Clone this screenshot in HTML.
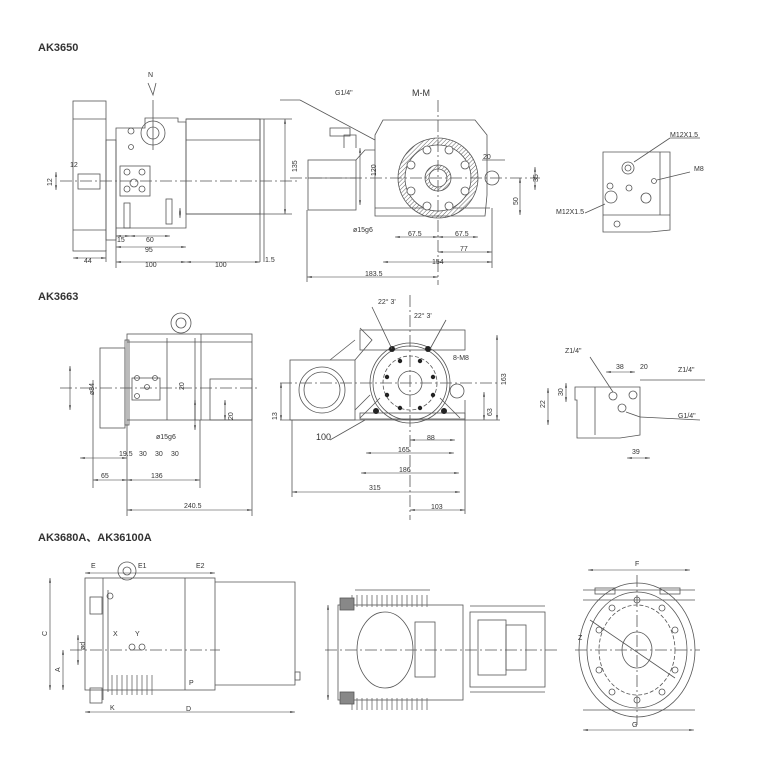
<!DOCTYPE html>
<html><head><meta charset="utf-8"><style>
html,body{margin:0;padding:0;background:#fff;}
svg{display:block;}
text{font-family:"Liberation Sans","Noto Sans CJK SC",sans-serif;fill:#333;}
</style></head><body>
<svg width="760" height="760" viewBox="0 0 760 760" xmlns="http://www.w3.org/2000/svg">
<defs>
<marker id="a" markerWidth="8" markerHeight="6" refX="8" refY="3" orient="auto-start-reverse"><path d="M0,1.5 L8,3 L0,4.5Z" fill="#333"/></marker>
<pattern id="h" width="3" height="3" patternUnits="userSpaceOnUse" patternTransform="rotate(45)"><line x1="0" y1="0" x2="0" y2="3" stroke="#666" stroke-width="1"/></pattern>
<pattern id="fin" width="5" height="10" patternUnits="userSpaceOnUse"><line x1="2" y1="0" x2="2" y2="10" stroke="#666" stroke-width="0.8"/></pattern>
</defs>
<g fill="none" stroke="#555" stroke-width="0.8">
<!-- ===== AK3650 left ===== -->
<rect x="73" y="101" width="33" height="150"/>
<line x1="73" y1="119" x2="106" y2="119"/><line x1="73" y1="230" x2="106" y2="230"/>
<rect x="106" y="140" width="10" height="100"/>
<path d="M116,128 H145 V118 H178 V122 H186 V128 V228 H116Z"/>
<rect x="186" y="119" width="74" height="95"/>
<line x1="186" y1="140" x2="260" y2="140"/>
<line x1="260" y1="119" x2="260" y2="262"/><line x1="264" y1="119" x2="264" y2="262"/>
<circle cx="153" cy="133" r="12"/><circle cx="153" cy="133" r="6"/>
<rect x="120" y="166" width="30" height="30"/>
<circle cx="127" cy="172" r="3"/><circle cx="142" cy="172" r="3"/><circle cx="127" cy="189" r="3"/><circle cx="142" cy="189" r="3"/>
<circle cx="134" cy="183" r="4"/><circle cx="131" cy="131" r="3"/><circle cx="131" cy="147" r="2.5"/>
<rect x="124" y="203" width="6" height="25"/><rect x="166" y="199" width="6" height="25"/>
<rect x="78" y="174" width="22" height="15"/>
<line x1="60" y1="181" x2="300" y2="181" stroke-dasharray="12,3,2,3"/>
<line x1="153" y1="100" x2="153" y2="150"/>
<path d="M148,83 L153,95 L156,83" />
<g stroke="#333" stroke-width="0.6" marker-start="url(#a)" marker-end="url(#a)">
<line x1="73" y1="258" x2="106" y2="258"/>
<line x1="116" y1="247" x2="186" y2="247"/>
<line x1="116" y1="262" x2="186" y2="262"/>
<line x1="186" y1="262" x2="260" y2="262"/>
<line x1="285" y1="119" x2="285" y2="214"/>
<line x1="56" y1="172" x2="56" y2="190"/>
<line x1="116" y1="236" x2="130" y2="236"/><line x1="130" y1="236" x2="170" y2="236"/>
<line x1="180" y1="208" x2="180" y2="218"/>
</g>
<line x1="186" y1="214" x2="292" y2="214"/><line x1="186" y1="119" x2="292" y2="119"/>
<line x1="116" y1="228" x2="116" y2="268"/>
<line x1="106" y1="250" x2="106" y2="262"/>
<!-- ===== AK3650 middle ===== -->
<path d="M375,135 L383,120 H475 L487,135 V195 L485,216 H375 V195Z"/>
<line x1="375" y1="208" x2="490" y2="208"/>
<rect x="308" y="160" width="48" height="50"/>
<line x1="308" y1="178" x2="356" y2="178"/>
<path d="M356,160 L365,150 H375 M344,148 V135 H356 V148"/>
<rect x="330" y="128" width="20" height="8"/>
<circle cx="438" cy="178" r="40" fill="url(#h)"/>
<circle cx="438" cy="178" r="33" fill="#fff"/>
<circle cx="438" cy="178" r="13" fill="url(#h)"/><circle cx="438" cy="178" r="9" fill="#fff"/>
<g fill="#fff">
<circle cx="427" cy="150" r="4"/><circle cx="449" cy="150" r="4"/><circle cx="465" cy="165" r="4"/><circle cx="465" cy="191" r="4"/>
<circle cx="449" cy="206" r="4"/><circle cx="427" cy="206" r="4"/><circle cx="411" cy="191" r="4"/><circle cx="411" cy="165" r="4"/>
</g>
<circle cx="492" cy="178" r="7"/>
<line x1="438" y1="100" x2="438" y2="285" stroke-dasharray="12,3,2,3"/>
<line x1="290" y1="178" x2="540" y2="178" stroke-dasharray="12,3,2,3"/>
<g stroke="#333" stroke-width="0.6" marker-start="url(#a)" marker-end="url(#a)">
<line x1="307" y1="277" x2="438" y2="277"/>
<line x1="383" y1="262" x2="492" y2="262"/>
<line x1="438" y1="252" x2="492" y2="252"/>
<line x1="395" y1="237" x2="438" y2="237"/>
<line x1="438" y1="237" x2="478" y2="237"/>
<line x1="535" y1="167" x2="535" y2="190"/>
<line x1="520" y1="178" x2="520" y2="215"/>
<line x1="360" y1="148" x2="360" y2="205"/>
</g>
<line x1="307" y1="210" x2="307" y2="282"/><line x1="492" y1="208" x2="492" y2="268"/>
<line x1="300" y1="100" x2="375" y2="140"/><line x1="300" y1="100" x2="280" y2="100"/>
<line x1="482" y1="160" x2="505" y2="160"/>
<!-- ===== AK3650 right ===== -->
<path d="M603,152 H670 V230 L650,232 H603Z"/>
<line x1="660" y1="152" x2="660" y2="215"/><line x1="603" y1="215" x2="670" y2="215"/>
<circle cx="628" cy="168" r="6"/><circle cx="628" cy="168" r="3"/>
<circle cx="611" cy="197" r="6"/><circle cx="610" cy="186" r="3"/><circle cx="629" cy="188" r="3"/>
<circle cx="646" cy="198" r="5"/><circle cx="654" cy="181" r="2.5"/><circle cx="617" cy="224" r="3"/>
<line x1="634" y1="162" x2="670" y2="138"/><line x1="670" y1="138" x2="700" y2="138"/>
<line x1="657" y1="180" x2="690" y2="172"/>
<line x1="605" y1="204" x2="585" y2="213"/>
<!-- ===== AK3663 left ===== -->
<rect x="100" y="348" width="25" height="80"/>
<rect x="125" y="340" width="4" height="85"/>
<rect x="127" y="334" width="125" height="86"/>
<line x1="127" y1="342" x2="252" y2="342"/>
<line x1="167" y1="338" x2="167" y2="420"/><line x1="195" y1="338" x2="195" y2="420"/><line x1="201" y1="334" x2="201" y2="420"/>
<rect x="210" y="379" width="42" height="41"/>
<circle cx="181" cy="323" r="10"/><circle cx="181" cy="323" r="5"/>
<rect x="132" y="378" width="28" height="22"/>
<circle cx="137" cy="378" r="2.5"/><circle cx="155" cy="378" r="2.5"/><circle cx="137" cy="396" r="2.5"/><circle cx="147" cy="387" r="2.5"/>
<line x1="60" y1="388" x2="260" y2="388" stroke-dasharray="12,3,2,3"/>
<g stroke="#333" stroke-width="0.6" marker-start="url(#a)" marker-end="url(#a)">
<line x1="70" y1="366" x2="70" y2="410"/>
<line x1="93" y1="480" x2="127" y2="480"/>
<line x1="127" y1="480" x2="200" y2="480"/>
<line x1="127" y1="510" x2="252" y2="510"/>
<line x1="195" y1="400" x2="195" y2="430"/>
<line x1="80" y1="458" x2="127" y2="458"/>
<line x1="225" y1="400" x2="225" y2="420"/>
</g>
<line x1="93" y1="380" x2="93" y2="488"/><line x1="127" y1="420" x2="127" y2="516"/><line x1="252" y1="420" x2="252" y2="516"/><line x1="200" y1="420" x2="200" y2="488"/>
<!-- ===== AK3663 middle ===== -->
<rect x="290" y="360" width="65" height="60"/>
<circle cx="322" cy="390" r="23"/><circle cx="322" cy="390" r="18"/>
<path d="M355,360 L372,340 L360,328 M355,410 L370,395 M330,360 L355,340"/>
<rect x="360" y="330" width="105" height="20"/>
<path d="M360,418 L380,398 M460,418 L440,398"/>
<rect x="360" y="413" width="105" height="6"/>
<circle cx="410" cy="383" r="40"/><circle cx="410" cy="383" r="37"/><circle cx="410" cy="383" r="12"/>
<circle cx="410" cy="383" r="27" stroke-dasharray="4,2"/>
<g fill="#222" stroke="none">
<circle cx="392" cy="349" r="3"/><circle cx="428" cy="349" r="3"/><circle cx="376" cy="411" r="3"/><circle cx="444" cy="411" r="3"/>
<circle cx="400" cy="361" r="2.2"/><circle cx="420" cy="361" r="2.2"/><circle cx="433" cy="377" r="2.2"/><circle cx="433" cy="395" r="2.2"/>
<circle cx="420" cy="408" r="2.2"/><circle cx="400" cy="408" r="2.2"/><circle cx="387" cy="395" r="2.2"/><circle cx="387" cy="377" r="2.2"/>
</g>
<circle cx="457" cy="391" r="7"/>
<line x1="410" y1="295" x2="410" y2="520" stroke-dasharray="12,3,2,3"/>
<line x1="280" y1="383" x2="500" y2="383" stroke-dasharray="12,3,2,3"/>
<line x1="280" y1="420" x2="500" y2="420"/>
<g stroke="#333" stroke-width="0.6" marker-start="url(#a)" marker-end="url(#a)">
<line x1="410" y1="440" x2="455" y2="440"/>
<line x1="366" y1="453" x2="454" y2="453"/>
<line x1="361" y1="473" x2="459" y2="473"/>
<line x1="292" y1="492" x2="460" y2="492"/>
<line x1="410" y1="510" x2="465" y2="510"/>
<line x1="497" y1="335" x2="497" y2="420"/>
<line x1="484" y1="392" x2="484" y2="420"/>
<line x1="281" y1="383" x2="281" y2="420"/>
</g>
<line x1="292" y1="420" x2="292" y2="497"/><line x1="465" y1="400" x2="465" y2="514"/>
<line x1="372" y1="307" x2="392" y2="349"/><line x1="446" y1="320" x2="430" y2="349"/>
<line x1="330" y1="440" x2="365" y2="420"/>
<!-- ===== AK3663 right ===== -->
<path d="M575,387 H640 V435 L620,438 H577 V400 H575Z"/>
<line x1="595" y1="387" x2="595" y2="435"/>
<circle cx="613" cy="396" r="4"/><circle cx="633" cy="395" r="4"/><circle cx="622" cy="408" r="4"/>
<line x1="590" y1="357" x2="613" y2="392"/><line x1="640" y1="380" x2="705" y2="380"/>
<line x1="626" y1="412" x2="640" y2="417"/><line x1="640" y1="417" x2="700" y2="420"/>
<g stroke="#333" stroke-width="0.6" marker-start="url(#a)" marker-end="url(#a)">
<line x1="606" y1="372" x2="635" y2="372"/><line x1="627" y1="458" x2="650" y2="458"/>
<line x1="548" y1="388" x2="548" y2="425"/><line x1="566" y1="383" x2="566" y2="402"/>
</g>
<!-- ===== AK3680A left ===== -->
<rect x="85" y="578" width="130" height="112"/>
<line x1="103" y1="578" x2="103" y2="700"/><line x1="108" y1="590" x2="108" y2="692"/>
<line x1="185" y1="578" x2="185" y2="690"/>
<path d="M215,582 H295 V685 H215"/>
<rect x="295" y="672" width="5" height="8"/>
<rect x="108" y="675" width="45" height="20" fill="url(#fin)" stroke="none"/>
<circle cx="127" cy="571" r="9"/><circle cx="127" cy="571" r="4"/>
<rect x="90" y="597" width="12" height="17"/><rect x="90" y="688" width="12" height="15"/>
<circle cx="110" cy="596" r="3"/>
<circle cx="132" cy="647" r="3"/><circle cx="142" cy="647" r="3"/>
<line x1="70" y1="650" x2="220" y2="650" stroke-dasharray="12,3,2,3"/>
<g stroke="#333" stroke-width="0.6" marker-start="url(#a)" marker-end="url(#a)">
<line x1="85" y1="712" x2="295" y2="712"/>
<line x1="85" y1="573" x2="215" y2="573"/>
<line x1="50" y1="578" x2="50" y2="690"/>
<line x1="63" y1="650" x2="63" y2="690"/>
<line x1="78" y1="635" x2="78" y2="665"/>
</g>
<!-- ===== middle ===== -->
<rect x="338" y="605" width="125" height="95"/>
<rect x="350" y="595" width="80" height="12" fill="url(#fin)" stroke="none"/>
<rect x="350" y="698" width="80" height="12" fill="url(#fin)" stroke="none"/>
<rect x="470" y="612" width="75" height="75"/>
<line x1="470" y1="606" x2="545" y2="606"/><line x1="470" y1="692" x2="545" y2="692"/>
<rect x="478" y="620" width="28" height="55"/><rect x="506" y="625" width="20" height="45"/>
<ellipse cx="385" cy="650" rx="28" ry="38"/>
<rect x="415" y="622" width="20" height="55"/>
<rect x="340" y="598" width="14" height="12" fill="#888"/><rect x="340" y="692" width="14" height="12" fill="#888"/>
<line x1="325" y1="650" x2="560" y2="650" stroke-dasharray="12,3,2,3"/>
<line x1="355" y1="590" x2="430" y2="590"/>
<g stroke="#333" stroke-width="0.6" marker-start="url(#a)" marker-end="url(#a)">
<line x1="328" y1="605" x2="328" y2="700"/>
</g>
<!-- ===== right ===== -->
<ellipse cx="637" cy="650" rx="58" ry="67"/>
<ellipse cx="637" cy="650" rx="50" ry="58"/>
<ellipse cx="637" cy="650" rx="38" ry="45" stroke-dasharray="4,2"/>
<ellipse cx="637" cy="650" rx="15" ry="18"/>
<g>
<circle cx="637" cy="600" r="3"/><circle cx="662" cy="608" r="3"/><circle cx="675" cy="630" r="3"/><circle cx="675" cy="670" r="3"/>
<circle cx="662" cy="692" r="3"/><circle cx="637" cy="700" r="3"/><circle cx="612" cy="692" r="3"/><circle cx="599" cy="670" r="3"/>
<circle cx="599" cy="630" r="3"/><circle cx="612" cy="608" r="3"/>
</g>
<rect x="595" y="588" width="20" height="6"/><rect x="660" y="588" width="20" height="6"/>
<line x1="583" y1="590" x2="695" y2="590"/><line x1="583" y1="600" x2="695" y2="600"/>
<line x1="583" y1="710" x2="695" y2="710"/>
<line x1="637" y1="575" x2="637" y2="725" stroke-dasharray="12,3,2,3"/>
<line x1="575" y1="650" x2="700" y2="650" stroke-dasharray="12,3,2,3"/>
<line x1="590" y1="620" x2="675" y2="678"/>
<g stroke="#333" stroke-width="0.6" marker-start="url(#a)" marker-end="url(#a)">
<line x1="588" y1="570" x2="690" y2="570"/>
<line x1="583" y1="730" x2="694" y2="730"/>
</g>
</g>
<g font-size="7">
<text x="38" y="51" font-size="11" font-weight="bold">AK3650</text>
<text x="38" y="300" font-size="11" font-weight="bold">AK3663</text>
<text x="38" y="541" font-size="11" font-weight="bold">AK3680A、AK36100A</text>
<text x="148" y="77">N</text>
<text x="70" y="167">12</text><text x="84" y="263">44</text><text x="117" y="242">15</text><text x="146" y="242">60</text>
<text x="145" y="252">95</text><text x="145" y="267">100</text><text x="215" y="267">100</text><text x="265" y="262">1.5</text>
<text transform="translate(297,172) rotate(-90)">135</text>
<text transform="translate(52,186) rotate(-90)">12</text>
<text transform="translate(376,176) rotate(-90)">120</text>
<text transform="translate(538,182) rotate(-90)">35</text>
<text transform="translate(518,205) rotate(-90)">50</text>
<text x="335" y="95">G1/4"</text><text x="412" y="96" font-size="9">M-M</text>
<text x="483" y="159">20</text><text x="353" y="232">ø15g6</text><text x="408" y="236">67.5</text><text x="455" y="236">67.5</text>
<text x="460" y="251">77</text><text x="432" y="264">154</text><text x="365" y="276">183.5</text>
<text x="670" y="137">M12X1.5</text><text x="694" y="171">M8</text><text x="556" y="214">M12X1.5</text>
<text x="378" y="304">22° 3'</text><text x="414" y="318">22° 3'</text><text x="453" y="360">8-M8</text>
<text transform="translate(506,385) rotate(-90)">163</text>
<text transform="translate(492,416) rotate(-90)">63</text>
<text transform="translate(277,420) rotate(-90)">13</text>
<text transform="translate(94,395) rotate(-90)">ø84</text>
<text transform="translate(184,390) rotate(-90)">20</text>
<text transform="translate(233,420) rotate(-90)">20</text>
<text x="316" y="440" font-size="9">100</text><text x="427" y="440">88</text><text x="398" y="452">165</text>
<text x="399" y="472">186</text><text x="369" y="490">315</text><text x="431" y="509">103</text>
<text x="119" y="456">19.5</text><text x="139" y="456">30</text><text x="155" y="456">30</text><text x="171" y="456">30</text>
<text x="156" y="439">ø15g6</text><text x="101" y="478">65</text><text x="151" y="478">136</text><text x="184" y="508">240.5</text>
<text x="565" y="353">Z1/4"</text><text x="616" y="369">38</text><text x="640" y="369">20</text><text x="678" y="372">Z1/4"</text>
<text x="678" y="418">G1/4"</text><text x="632" y="454">39</text>
<text transform="translate(545,408) rotate(-90)">22</text><text transform="translate(563,396) rotate(-90)">30</text>
<text x="91" y="568">E</text><text x="138" y="568">E1</text><text x="196" y="568">E2</text>
<text x="113" y="636">X</text><text x="135" y="636">Y</text><text x="110" y="710">K</text><text x="186" y="711">D</text>
<text transform="translate(47,636) rotate(-90)">C</text><text transform="translate(60,672) rotate(-90)">A</text>
<text transform="translate(85,650) rotate(-90)">ød</text><text x="189" y="685">P</text>
<text x="635" y="566">F</text><text x="632" y="727">G</text>
<text x="578" y="640">Z</text>
</g>
</svg>
</body></html>
